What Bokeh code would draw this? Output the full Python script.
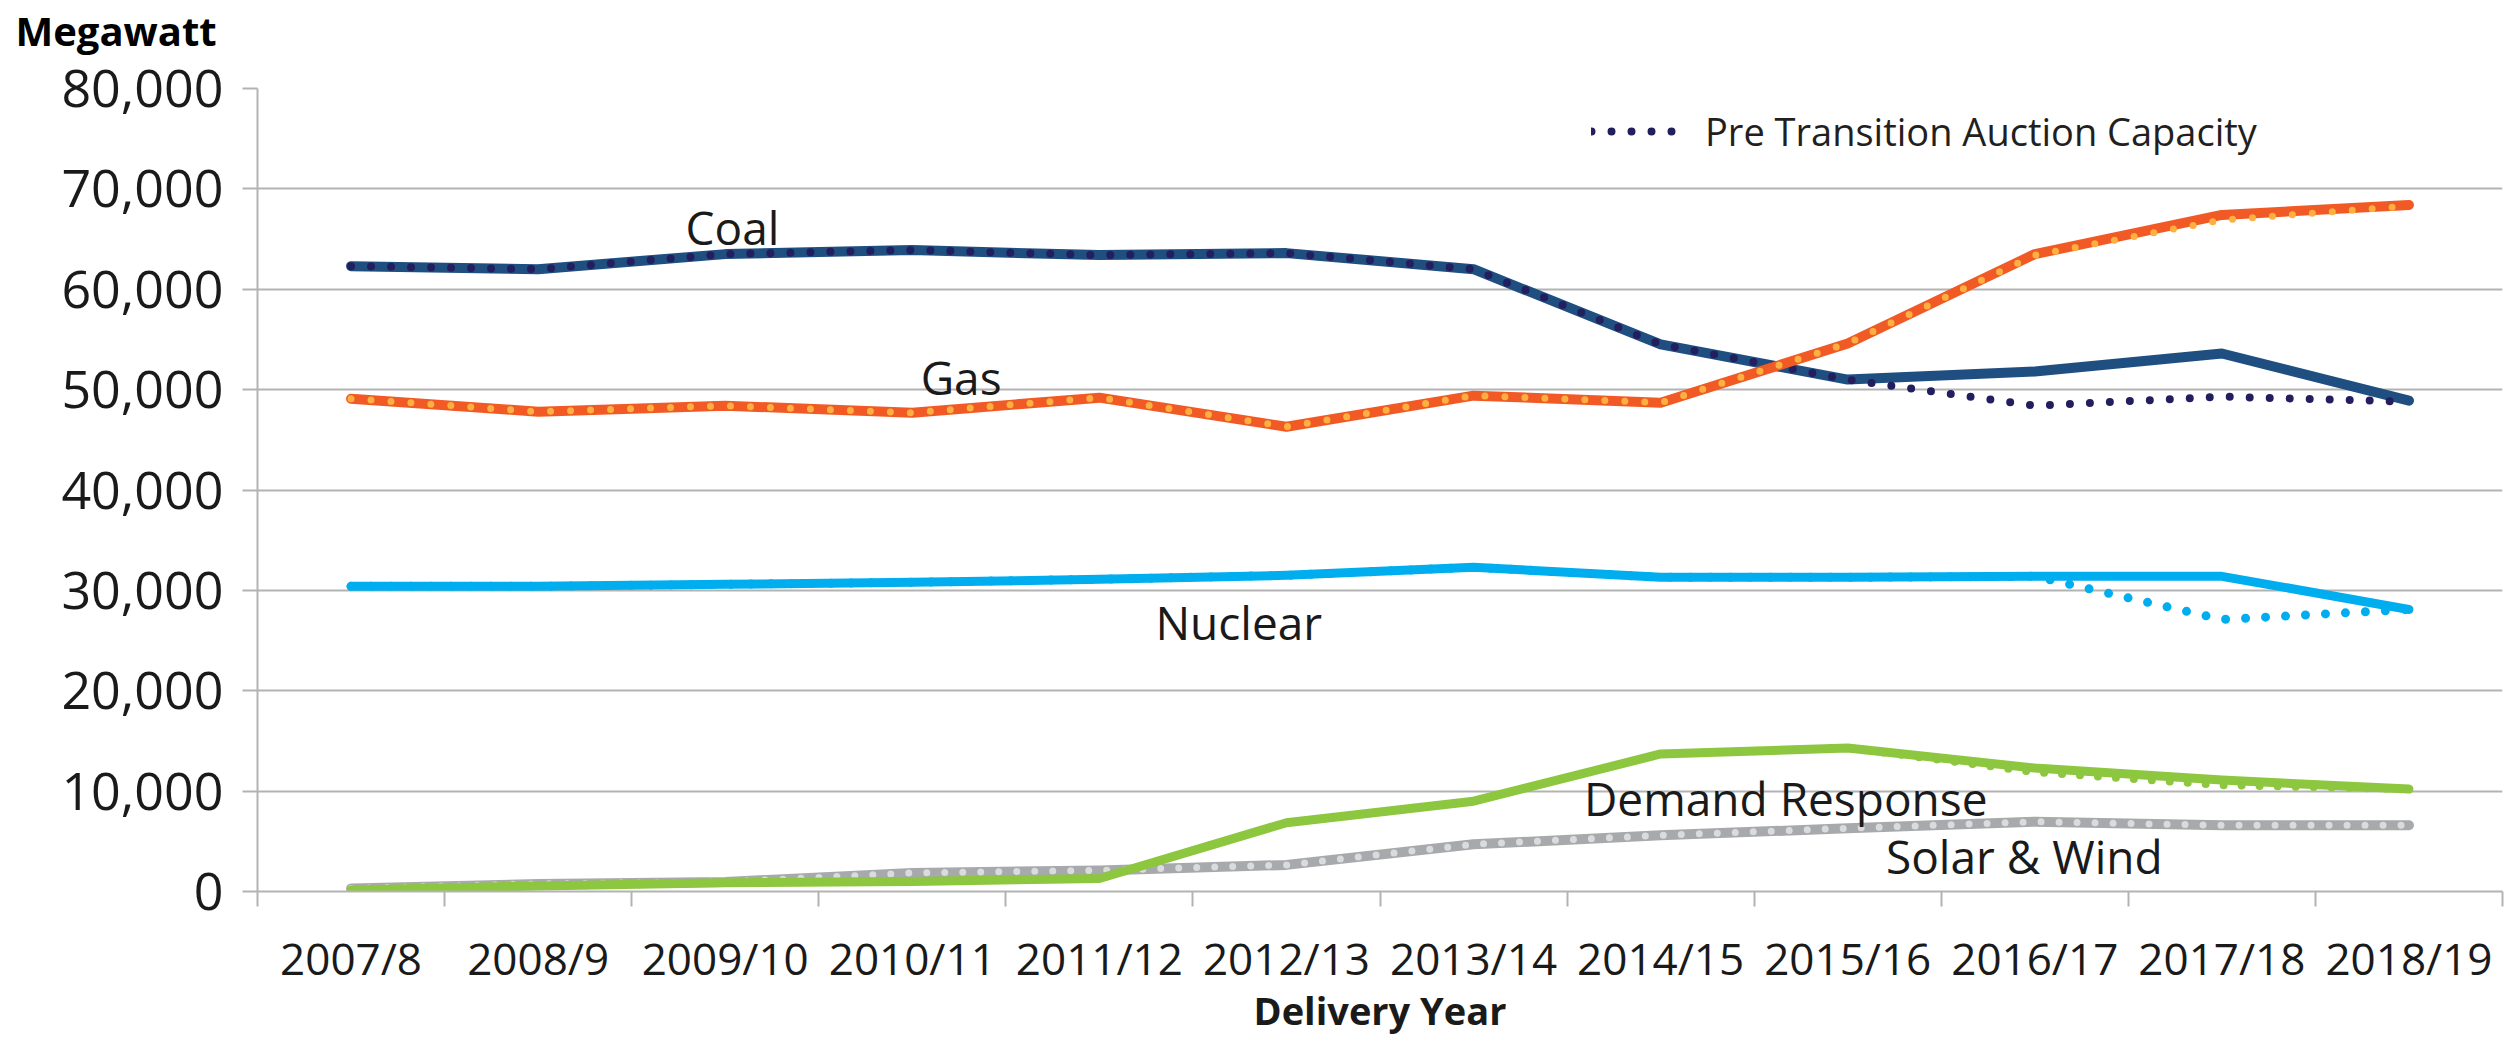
from bokeh.plotting import figure
from bokeh.models import (Range1d, FixedTicker, NumeralTickFormatter,
                          Legend, LegendItem, Label, ColumnDataSource)
from bokeh.embed import file_html
from bokeh.resources import INLINE

# ---- data (MW) ----
years = ["2007/8", "2008/9", "2009/10", "2010/11", "2011/12", "2012/13",
         "2013/14", "2014/15", "2015/16", "2016/17", "2017/18", "2018/19"]
coal = [62300, 62000, 63500, 63900, 63400, 63600, 62000, 54500, 51000, 51800, 53600, 48900]
coal_pre = [62300, 62000, 63500, 63900, 63400, 63600, 62000, 54500, 51000, 48400, 49300, 48800]
gas = [49100, 47800, 48400, 47700, 49200, 46300, 49400, 48700, 54600, 63500, 67400, 68400]
gas_pre = [49100, 47800, 48400, 47700, 49200, 46300, 49400, 48700, 54600, 63400, 66900, 68300]
nuclear = [30400, 30400, 30600, 30800, 31100, 31500, 32300, 31300, 31300, 31400, 31400, 28100]
nuclear_pre = [30400, 30400, 30600, 30800, 31100, 31500, 32300, 31300, 31300, 31400, 27100, 28100]
demand = [150, 550, 880, 1000, 1300, 6850, 9000, 13700, 14300, 12300, 11100, 10200]
demand_pre = [150, 550, 880, 1000, 1300, 6850, 9000, 13700, 14300, 11900, 10600, 10200]
solar_wind = [300, 750, 950, 1850, 2100, 2650, 4700, 5600, 6300, 6950, 6600, 6600]
y_ticks = [0, 10000, 20000, 30000, 40000, 50000, 60000, 70000, 80000]

FONT = "Open Sans"
TXT = "#1A1A1A"
GRID = "#B3B3B3"

xs = list(range(len(years)))

p = figure(width=2505, height=1038, output_backend="svg", toolbar_location=None,
           x_range=Range1d(-0.5, len(years) - 0.5), y_range=Range1d(y_ticks[0], y_ticks[-1]),
           min_border_left=257, min_border_right=3, min_border_top=88, min_border_bottom=146)
p.outline_line_color = None
p.background_fill_color = "white"
p.border_fill_color = "white"

# grid
p.xgrid.grid_line_color = None
p.ygrid.grid_line_color = GRID
p.ygrid.grid_line_width = 2

# y axis
p.yaxis.ticker = FixedTicker(ticks=y_ticks)
p.yaxis.formatter = NumeralTickFormatter(format="0,0")
p.yaxis.axis_line_color = GRID
p.yaxis.axis_line_width = 2
p.yaxis.major_tick_out = 15
p.yaxis.major_tick_in = 0
p.yaxis.major_tick_line_color = GRID
p.yaxis.major_tick_line_width = 2
p.yaxis.minor_tick_line_color = None
p.yaxis.major_label_text_font = FONT
p.yaxis.major_label_text_font_size = "52px"
p.yaxis.major_label_text_color = TXT
p.yaxis.major_label_standoff = 19

# x axis (labels at category centres, ticks at category boundaries)
p.xaxis.ticker = FixedTicker(ticks=xs, minor_ticks=[i - 0.5 for i in range(len(years) + 1)])
p.xaxis.major_label_overrides = {i: y for i, y in enumerate(years)}
p.xaxis.major_tick_line_color = None
p.xaxis.major_tick_out = 0
p.xaxis.major_tick_in = 0
p.xaxis.minor_tick_out = 15
p.xaxis.minor_tick_in = 0
p.xaxis.minor_tick_line_color = GRID
p.xaxis.minor_tick_line_width = 2
p.xaxis.axis_line_color = GRID
p.xaxis.axis_line_width = 2
p.xaxis.major_label_text_font = FONT
p.xaxis.major_label_text_font_size = "44px"
p.xaxis.major_label_text_color = TXT
p.xaxis.major_label_standoff = 21
p.xaxis.axis_label = "Delivery Year"
p.xaxis.axis_label_text_font = FONT
p.xaxis.axis_label_text_font_size = "38px"
p.xaxis.axis_label_text_font_style = "bold"
p.xaxis.axis_label_text_color = TXT
p.xaxis.axis_label_standoff = -7


def line(vals, color, width, dash=None):
    src = ColumnDataSource(dict(x=xs, y=vals))
    if dash:
        return p.line("x", "y", source=src, line_color=color, line_width=width,
                      line_dash=dash, line_cap="round", line_join="round")
    return p.line("x", "y", source=src, line_color=color, line_width=width,
                  line_join="round", line_cap="round")


line(solar_wind, "#A7A9AC", 10)
line(solar_wind, "#DADBDC", 7, "0 18")
line(demand, "#8DC63F", 9)
line(demand_pre, "#8DC63F", 8, "0 18")
line(nuclear, "#00AEEF", 9)
line(nuclear_pre, "#00AEEF", 9, "0 20")
line(coal, "#1F4E80", 10)
coal_pre_r = line(coal_pre, "#231F5E", 8, "0 20")
line(gas, "#F15A24", 10)
line(gas_pre, "#FBB040", 7, "0 20")

# series labels
label_names = ["Coal", "Gas", "Nuclear", "Demand Response", "Solar & Wind"]
label_x = [2.039, 3.261, 4.745, 7.669, 8.944]
label_y = [66240, 51300, 26800, 9270, 3490]
for t, lx, ly in zip(label_names, label_x, label_y):
    p.add_layout(Label(x=lx, y=ly, text=t, text_align="center", text_baseline="alphabetic",
                       text_font=FONT, text_font_size="46px", text_color=TXT))

# y-axis unit label (placed in the area above the frame)
p.add_layout(Label(x=-242, y=58, x_units="screen", y_units="screen", text="Megawatt",
                   text_align="left", text_baseline="alphabetic", text_font=FONT,
                   text_font_size="40px", text_font_style="bold", text_color="#000000"),
             "above")

legend = Legend(items=[LegendItem(label="Pre Transition Auction Capacity", renderers=[coal_pre_r])],
                location=(1334, 734), orientation="vertical",
                glyph_width=92, glyph_height=52, label_height=52, label_standoff=22,
                padding=6, margin=0, spacing=0,
                border_line_color=None, background_fill_alpha=0,
                label_text_font=FONT, label_text_font_size="38px", label_text_color="#231F20")
p.add_layout(legend, "center")

open("out.html", "w").write(file_html(p, INLINE))
